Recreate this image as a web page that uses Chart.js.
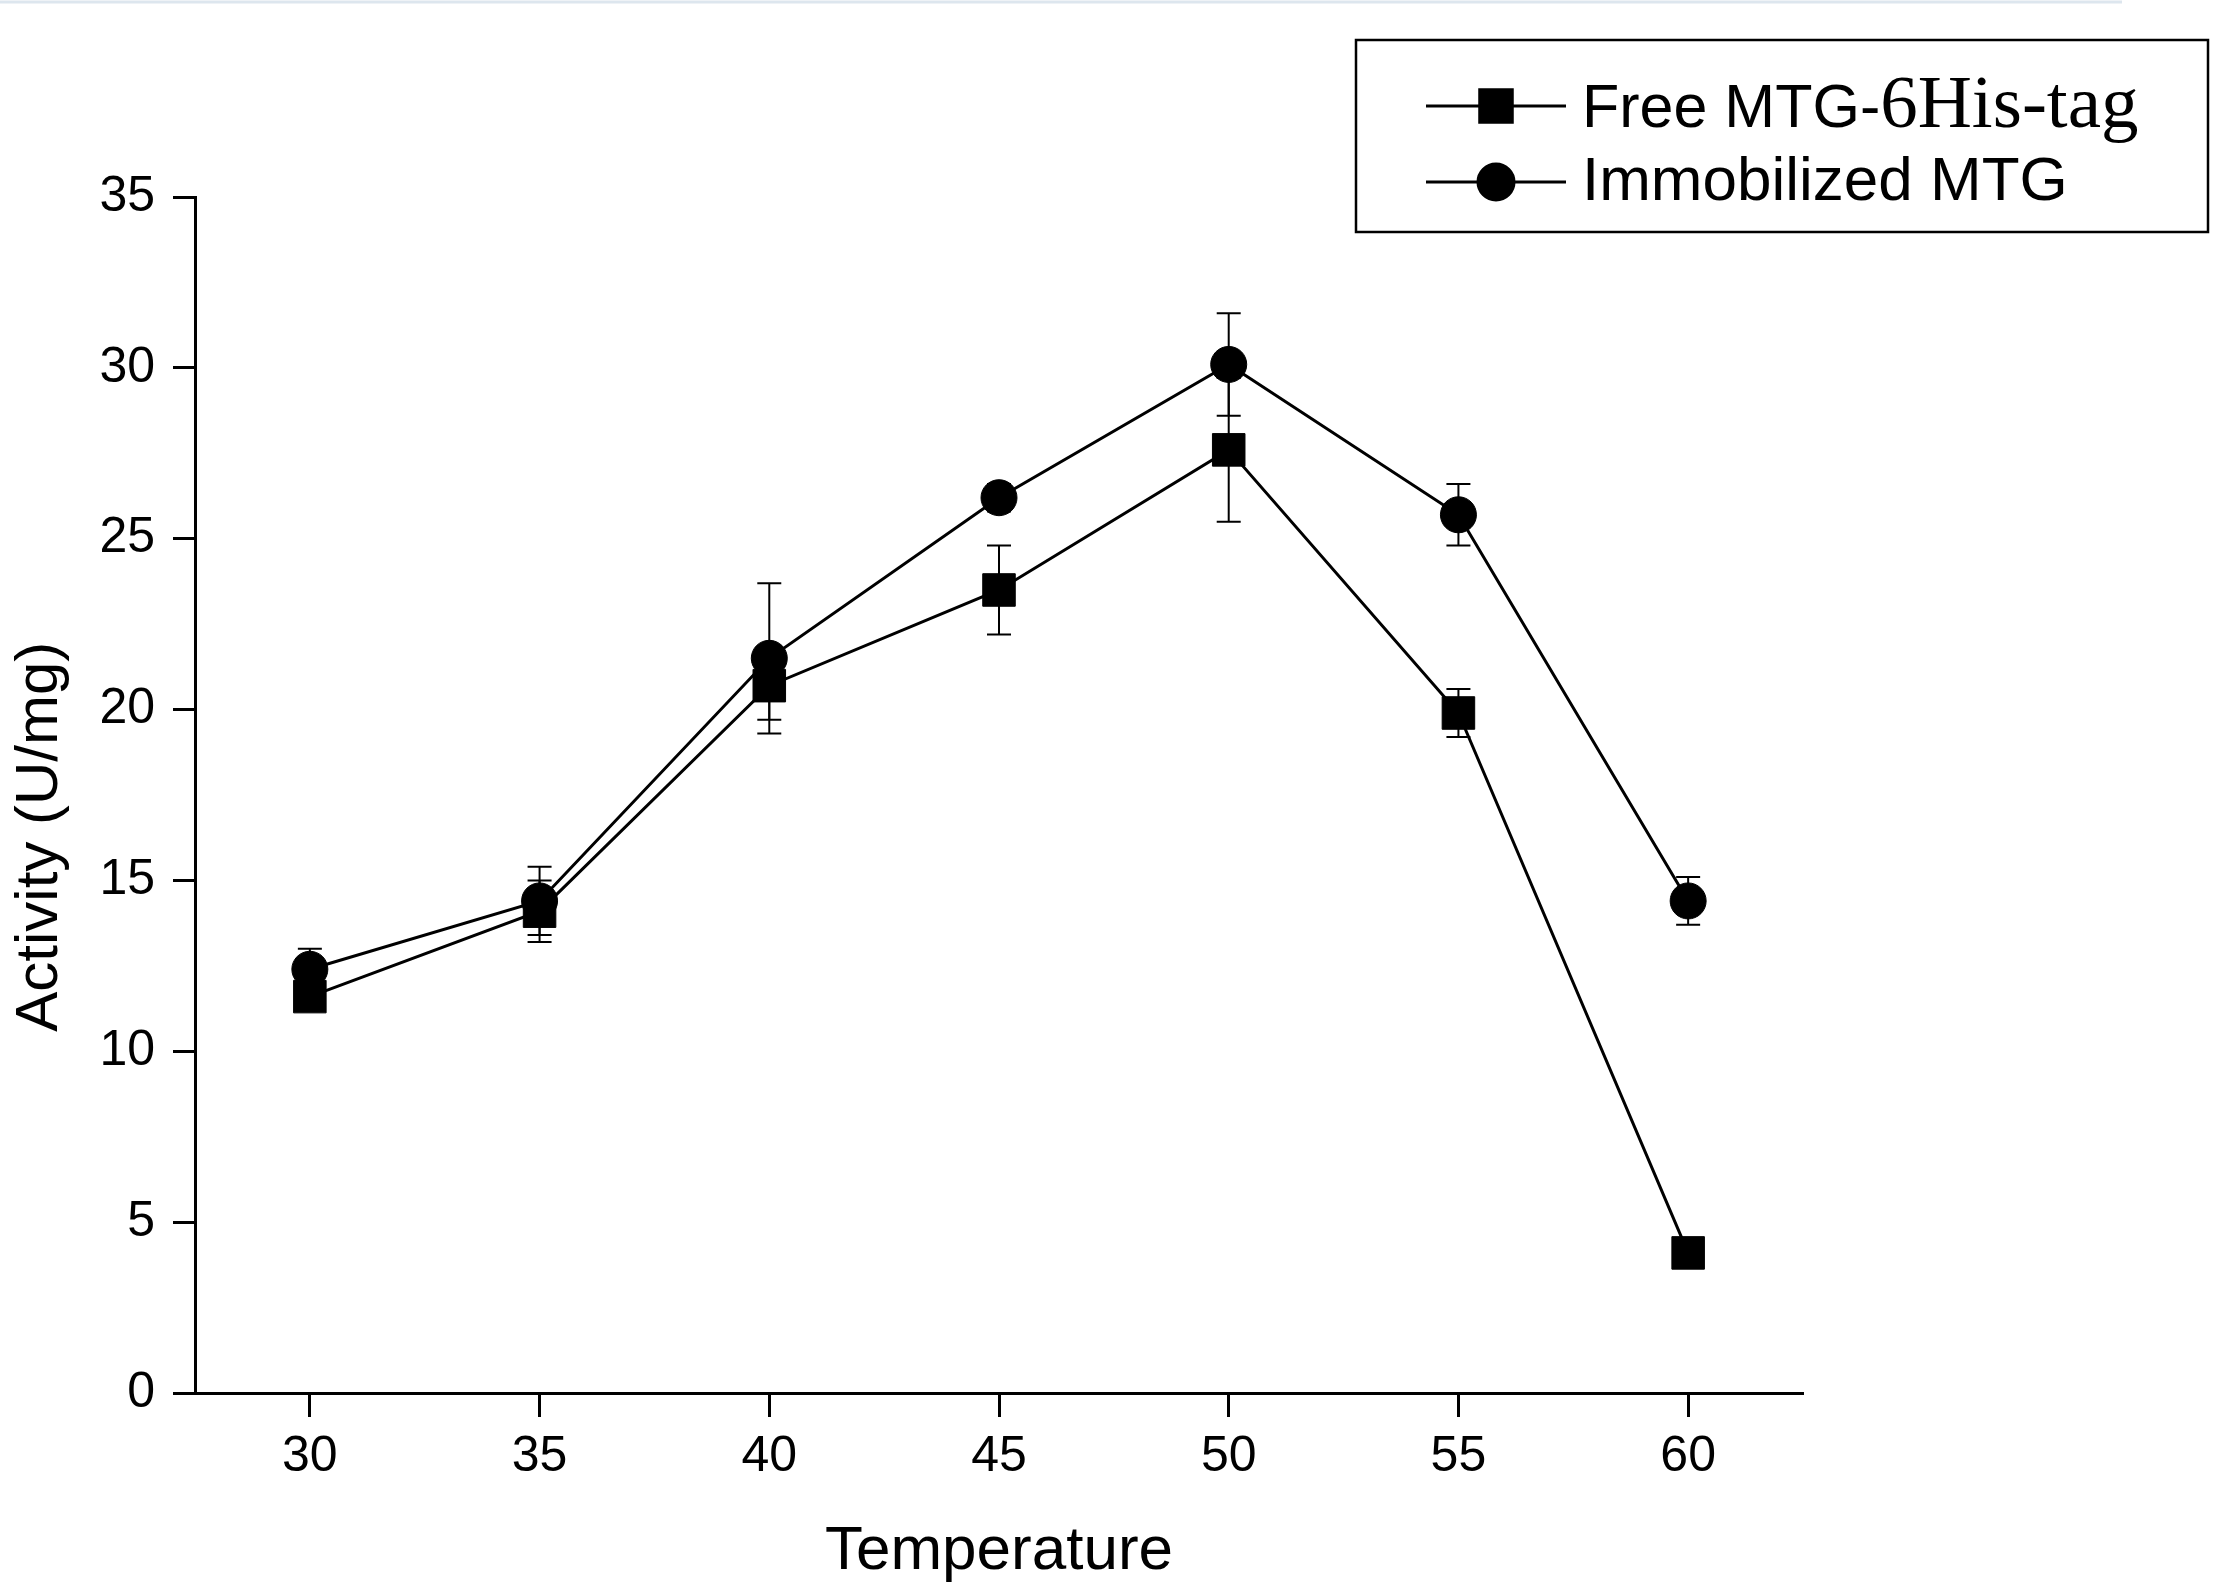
<!DOCTYPE html>
<html>
<head>
<meta charset="utf-8">
<title>Activity vs Temperature</title>
<script src="https://cdn.jsdelivr.net/npm/chart.js@4.4.1/dist/chart.umd.min.js"></script>
<style>
    html, body { margin: 0; padding: 0; background: #fff; }
    #chart { display: block; }
</style>
</head>
<body>
<canvas id="chart" width="2217" height="1589"></canvas>
<script>
// Data
const temperatures = [30, 35, 40, 45, 50, 55, 60];
const freeActivity = [11.6, 14.1, 20.7, 23.5, 27.6, 19.9, 4.1];
const freeError = [0.3, 0.9, 1.0, 1.3, 2.1, 0.7, 0.2];
const immobActivity = [12.4, 14.4, 21.5, 26.2, 30.1, 25.7, 14.4];
const immobError = [0.6, 1.0, 2.2, 0.4, 1.5, 0.9, 0.7];
const xTicks = [30, 35, 40, 45, 50, 55, 60];
const yTicks = [0, 5, 10, 15, 20, 25, 30, 35];

const SANS = "'Liberation Sans', Arial, sans-serif";
const SERIF = "'Liberation Serif', 'Times New Roman', serif";

const toPoints = vals => temperatures.map((t, i) => ({ x: t, y: vals[i] }));

// vertical error bars with caps, placed through the chart scales
const errorBars = {
    id: 'errorBars',
    afterDatasetsDraw(chart) {
        const { ctx, scales: { x, y } } = chart;
        const sets = [[freeActivity, freeError], [immobActivity, immobError]];
        ctx.save();
        ctx.strokeStyle = '#000';
        ctx.lineWidth = 2;
        sets.forEach(([vals, errs]) => {
            vals.forEach((v, i) => {
                const px = x.getPixelForValue(temperatures[i]);
                const top = y.getPixelForValue(v + errs[i]);
                const bot = y.getPixelForValue(v - errs[i]);
                ctx.beginPath();
                ctx.moveTo(px, top); ctx.lineTo(px, bot);
                ctx.moveTo(px - 12, top); ctx.lineTo(px + 12, top);
                ctx.moveTo(px - 12, bot); ctx.lineTo(px + 12, bot);
                ctx.stroke();
            });
        });
        ctx.restore();
    }
};

// boxed legend; the first label mixes a sans and a serif face
const boxLegend = {
    id: 'boxLegend',
    afterDraw(chart) {
        const ctx = chart.ctx;
        ctx.save();

        // faint rule along the top edge of the figure
        ctx.strokeStyle = '#dde6ee';
        ctx.lineWidth = 3;
        ctx.beginPath(); ctx.moveTo(0, 2); ctx.lineTo(2122, 2); ctx.stroke();

        ctx.strokeStyle = '#000';
        ctx.lineWidth = 2.5;
        ctx.strokeRect(1356, 40, 852, 192);

        const rows = [
            { ds: chart.data.datasets[0], y: 106, base: 127, parts: [['Free MTG-', '61px ' + SANS], ['6His-tag', '75px ' + SERIF]] },
            { ds: chart.data.datasets[1], y: 182, base: 200, parts: [['Immobilized MTG', '62px ' + SANS]] }
        ];
        rows.forEach(r => {
            ctx.strokeStyle = '#000';
            ctx.lineWidth = 3;
            ctx.beginPath(); ctx.moveTo(1426, r.y); ctx.lineTo(1566, r.y); ctx.stroke();
            ctx.fillStyle = '#000';
            Chart.helpers.drawPoint(ctx, {
                pointStyle: r.ds.pointStyle,
                radius: r.ds.pointRadius,
                borderWidth: 1
            }, 1496, r.y);
            ctx.fill();

            let tx = 1582;
            ctx.textBaseline = 'alphabetic';
            ctx.textAlign = 'left';
            r.parts.forEach(([txt, font]) => {
                ctx.font = font;
                ctx.fillText(txt, tx, r.base);
                tx += ctx.measureText(txt).width;
            });
        });
        ctx.restore();
    }
};

new Chart(document.getElementById('chart'), {
    type: 'line',
    data: {
        datasets: [
            {
                label: 'Free MTG-6His-tag',
                data: toPoints(freeActivity),
                borderColor: '#000',
                backgroundColor: '#000',
                borderWidth: 3,
                pointStyle: 'rect',
                pointRadius: 23,
                pointBorderWidth: 1,
                pointHoverRadius: 23,
                tension: 0
            },
            {
                label: 'Immobilized MTG',
                data: toPoints(immobActivity),
                borderColor: '#000',
                backgroundColor: '#000',
                borderWidth: 3,
                pointStyle: 'circle',
                pointRadius: 18,
                pointBorderWidth: 1,
                pointHoverRadius: 18,
                tension: 0
            }
        ]
    },
    options: {
        responsive: false,
        animation: false,
        devicePixelRatio: 1,
        layout: { padding: { top: 197, right: 414, left: 0, bottom: 0 } },
        plugins: {
            legend: { display: false },
            tooltip: { enabled: false }
        },
        scales: {
            x: {
                type: 'linear',
                min: 27.5,
                max: 62.5,
                afterBuildTicks: s => { s.ticks = xTicks.map(v => ({ value: v })); },
                afterFit: s => { s.height = 196; },
                grid: { drawOnChartArea: false, drawTicks: true, tickLength: 24, tickWidth: 3, tickColor: '#000' },
                border: { display: true, color: '#000', width: 3 },
                ticks: { color: '#000', font: { family: SANS, size: 50 }, padding: 10, maxRotation: 0 },
                title: {
                    display: true,
                    text: 'Temperature',
                    color: '#000',
                    font: { family: SANS, size: 62 },
                    padding: { top: 0, bottom: 0 }
                }
            },
            y: {
                min: 0,
                max: 35,
                afterBuildTicks: s => { s.ticks = yTicks.map(v => ({ value: v })); },
                afterFit: s => { s.width = 195; },
                grid: { drawOnChartArea: false, drawTicks: true, tickLength: 22, tickWidth: 3, tickColor: '#000' },
                border: { display: true, color: '#000', width: 3 },
                ticks: { color: '#000', font: { family: SANS, size: 50 }, padding: 18 },
                title: {
                    display: true,
                    text: 'Activity (U/mg)\u00a0\u00a0\u00a0\u00a0\u00a0',
                    color: '#000',
                    font: { family: SANS, size: 60 },
                    padding: { top: 4, bottom: 0 }
                }
            }
        }
    },
    plugins: [errorBars, boxLegend]
});
</script>
</body>
</html>
